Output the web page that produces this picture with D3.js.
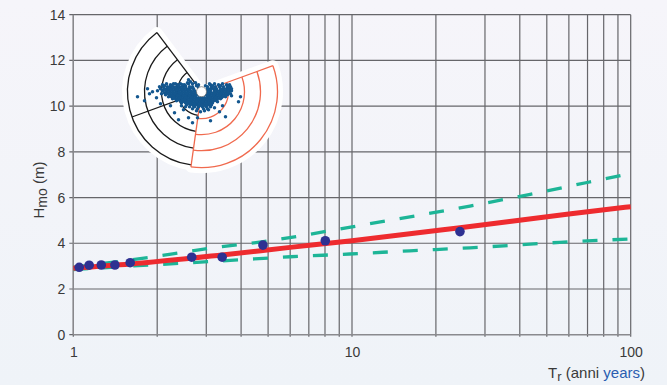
<!DOCTYPE html>
<html><head><meta charset="utf-8">
<script src="https://cdn.jsdelivr.net/npm/d3@7"></script>
<style>
html,body{margin:0;padding:0;}
svg{display:block;font-family:"Liberation Sans",Arial,sans-serif;}
</style></head>
<body><svg id="c" width="667" height="385"></svg>
<script>
// ---------- data ----------
const xTicks = [1,2,3,4,5,6,7,8,9,10,20,30,40,50,60,70,80,90,100];
const xLabels = [1,10,100];
const yTicks = [0,2,4,6,8,10,12,14];

const T_obs = [1.05,1.14,1.26,1.41,1.60,2.66,3.42,4.79,8.02,24.4];
const H_obs = [2.95,3.04,3.05,3.05,3.15,3.39,3.39,3.92,4.11,4.51];

const T_fit = [1,1.6,3.42,6,10,24.4,60,100];
const H_fit = [2.91,3.09,3.49,3.82,4.11,4.68,5.28,5.6];

const T_up = [1,1.6,3.42,4.8,10,26.5,43.6,70.5,100];
const H_up = [2.95,3.27,3.85,4.07,4.72,5.63,6.14,6.67,7.05];

const T_lo = [1,1.6,3.66,6,9.8,16.1,26.5,55.7,100];
const H_lo = [2.85,3.0,3.25,3.41,3.53,3.67,3.80,4.04,4.19];

// inset (direction rose): sector bearings in degrees and ring levels
const blackSector = [188,323];
const blackDivider = [250];
const redSector = [70,188];
const blackRings = [24,40,57,74];
const redRings = [27,43,59,76];
const holeRadius = 5;

// inset scatter: [east, north]
const scatter = [
[-39,7],[-35,8],[-31,7],[-28,8],[-24,7],[-21,8],[-17,7],[-13,8],[9,7],[13,8],[17,7],[21,8],[25,7],[28,7],
[-42,5],[-38,5],[-34,5],[-31,5],[-28,5],[-25,5],[-22,5],[-19,5],[-16,5],[-12,5],[-9,5],[6,5],[10,5],[14,5],[18,5],[22,5],[26,5],[29,5],
[-41,3],[-37,3],[-34,3],[-30,3],[-27,3],[-24,3],[-21,3],[-18,3],[-15,3],[-12,3],[-8,3],[6,3],[9,3],[12,3],[15,3],[19,3],[22,3],[25,3],[28,3],[30,3],
[-39,1],[-35,1],[-32,1],[-29,1],[-26,1],[-23,1],[-20,1],[-17,1],[-14,1],[-11,1],[-7,1],[6,1],[9,1],[13,1],[16,1],[19,1],[22,1],[25,1],[28,1],
[-37,-1],[-34,-1],[-31,-1],[-28,-1],[-25,-1],[-22,-1],[-19,-1],[-16,-1],[-13,-1],[-10,-1],[-6,-1],[6,-1],[9,-1],[12,-1],[15,-1],[18,-1],[21,-1],[24,-1],[27,-1],
[-36,-3],[-32,-3],[-29,-3],[-26,-3],[-23,-3],[-20,-3],[-17,-3],[-14,-3],[-11,-3],[-8,-3],[-5,-3],[5,-3],[8,-3],[11,-3],[14,-3],[17,-3],[20,-3],[23,-3],[26,-3],
[-33,-5],[-30,-5],[-27,-5],[-24,-5],[-21,-5],[-18,-5],[-15,-5],[-12,-5],[-9,-5],[-6,-5],[-3,-6],[0,-6],[3,-6],[6,-5],[9,-5],[12,-5],[15,-5],[18,-5],[21,-5],[24,-5],
[-29,-7],[-26,-7],[-23,-7],[-20,-7],[-17,-7],[-14,-7],[-11,-7],[-8,-7],[-5,-7],[-2,-7],[1,-7],[4,-7],[7,-7],[10,-7],[13,-7],[16,-7],[19,-7],
[-25,-9],[-21,-9],[-18,-9],[-15,-9],[-12,-9],[-9,-9],[-6,-9],[-3,-9],[0,-9],[3,-9],[6,-9],[9,-9],[12,-9],[15,-9],
[-20,-11],[-16,-11],[-13,-11],[-10,-11],[-7,-11],[-4,-11],[-1,-11],[2,-11],[5,-11],[8,-11],[11,-11],
[-15,-13],[-11,-13],[-8,-13],[-5,-13],[-2,-13],[1,-13],[4,-13],[7,-13],[10,-13],
[-12,-15],[-7,-15],[-3,-15],[1,-15],[5,-15],[9,-15],
[-9,-17],[-4,-17],[2,-17],[6,-17],
[-37,6],[-30,6],[-23,6],[-16,6],[11,6],[19,6],[26,6],
[-38,2],[-31,2],[-25,2],[-19,2],[-13,2],[8,2],[14,2],[20,2],[27,2],
[-35,-2],[-27,-2],[-21,-2],[-15,-2],[-9,-2],[7,-2],[13,-2],[19,-2],[25,-2],
[-30,-4],[-24,-4],[-18,-4],[-12,-4],[-6,-4],[6,-4],[12,-4],[18,-4],[24,-4],
[-28,-6],[-22,-6],[-16,-6],[-10,-6],[-4,-8],[2,-8],[8,-6],[14,-6],[20,-6],
[-23,-8],[-17,-8],[-11,-8],[-5,-10],[1,-10],[7,-8],[13,-8],
[-19,-10],[-13,-10],[-7,-12],[-1,-12],[5,-12],[11,-10],
[-14,-12],[-8,-14],[-2,-14],[4,-14],[9,-13],
[-13,12],[-14,9],[-11,10],[-9,8],[-6,9],[-3,7],
[-10,4],[-5,6],[-3,4],[-9,0],[-40,-2],[-33,4],[-26,8],[-19,7],[4,6],[8,8],[30,1],[29,-2],[16,-10],[-20,-14],[-16,-15],[-5,-19],[3,-19],
[-64,-5],[-54,3],[-52,-2],[-45,-6],[-49,0],[-41,-12],[-31,-14],[-27,-21],[-23,-28],[-13,-26],[-9,-31],[-4,-26],
[9,-29],[18,-20],[24,-25],[30,-4],[39,-5],[37,-10],[21,-14],[7,-18],[-18,-18],[-1,-20],[13,-16],[-44,1],[-57,-9]
];

// ---------- layout ----------
const svg = d3.select("#c");
const W = 667, H = 385;
const m = {l:73.3, r:630.7, t:14.7, b:334.7};

const defs = svg.append("defs");
const g0 = defs.append("linearGradient").attr("id","bg").attr("x1",0).attr("y1",0).attr("x2",0).attr("y2",1);
g0.append("stop").attr("offset","0%").attr("stop-color","#f6f5fa");
g0.append("stop").attr("offset","100%").attr("stop-color","#eff3f8");
svg.append("rect").attr("width",W).attr("height",H).attr("fill","url(#bg)");

const x = d3.scaleLog().domain([1,100]).range([m.l, m.r]);
const y = d3.scaleLinear().domain([0,14]).range([m.b, m.t]);

// grid
const grid = svg.append("g");
grid.selectAll("line.v").data(xTicks).join("line")
  .attr("x1",d=>x(d)).attr("x2",d=>x(d)).attr("y1",m.t).attr("y2",m.b+2)
  .attr("stroke","#66666a").attr("stroke-width",1.2);
grid.selectAll("line.h").data(yTicks).join("line")
  .attr("x1",m.l-4).attr("x2",m.r).attr("y1",d=>y(d)).attr("y2",d=>y(d))
  .attr("stroke","#66666a").attr("stroke-width",1.2);
// axis lines
svg.append("line").attr("x1",m.l).attr("x2",m.l).attr("y1",m.t).attr("y2",m.b)
  .attr("stroke","#8a8a8e").attr("stroke-width",1.3);
svg.append("line").attr("x1",m.l).attr("x2",m.r).attr("y1",m.b).attr("y2",m.b)
  .attr("stroke","#8a8a8e").attr("stroke-width",1.3);

// tick labels via axes
const ax = svg.append("g").attr("transform",`translate(0,${m.b})`)
  .call(d3.axisBottom(x).tickValues(xLabels).tickFormat(d3.format("d")).tickSize(0).tickPadding(12));
ax.select(".domain").remove();
ax.selectAll("text").attr("font-size",14).attr("fill","#3a3a3a").attr("font-family","Liberation Sans, Arial, sans-serif");
const ay = svg.append("g").attr("transform",`translate(${m.l},0)`)
  .call(d3.axisLeft(y).tickValues(yTicks).tickSize(0).tickPadding(8));
ay.select(".domain").remove();
ay.selectAll("text").attr("font-size",14).attr("fill","#3a3a3a").attr("font-family","Liberation Sans, Arial, sans-serif");

// axis titles
const yl = svg.append("text").attr("transform","translate(44,190) rotate(-90)")
  .attr("text-anchor","middle").attr("font-size",15).attr("fill","#3a3a3a");
yl.append("tspan").text("H");
yl.append("tspan").text("mo").attr("font-size",14).attr("dy",3);
yl.append("tspan").text(" (m)").attr("dy",-3);

const xl = svg.append("text").attr("x",645).attr("y",378).attr("text-anchor","end")
  .attr("font-size",15).attr("fill","#3a3a3a");
xl.append("tspan").text("T");
xl.append("tspan").text("r").attr("font-size",13).attr("dy",3);
xl.append("tspan").text(" (anni ").attr("dy",-3);
xl.append("tspan").text("years").attr("fill","#2a5db0");
xl.append("tspan").text(")");

// ---------- inset ----------
const cx = 201.5, cy = 91.7;
const ins = svg.append("g").attr("transform",`translate(${cx},${cy})`);
const rad = d=>d*Math.PI/180;
const arcGen = d3.arc();
ins.append("path").attr("d",arcGen({innerRadius:0,outerRadius:d3.max(blackRings),startAngle:rad(blackSector[0]),endAngle:rad(blackSector[1])}))
  .attr("fill","#fff").attr("stroke","#fff").attr("stroke-width",11).attr("stroke-linejoin","round");
ins.append("path").attr("d",arcGen({innerRadius:0,outerRadius:d3.max(redRings),startAngle:rad(redSector[0]),endAngle:rad(redSector[1])}))
  .attr("fill","#fff").attr("stroke","#fff").attr("stroke-width",11).attr("stroke-linejoin","round");

function ringArc(r,a0,a1){
  return arcGen({innerRadius:r,outerRadius:r,startAngle:rad(a0),endAngle:rad(a1)});
}
function radial(a,r0,r1){
  const s=Math.sin(rad(a)), c=-Math.cos(rad(a));
  return `M${r0*s},${r0*c}L${r1*s},${r1*c}`;
}
const blackG = ins.append("g").attr("fill","none").attr("stroke","#1a1a1a").attr("stroke-width",1.3);
blackRings.forEach(r=>blackG.append("path").attr("d",ringArc(r,blackSector[0],blackSector[1])));
[blackSector[1]].concat(blackDivider).forEach(a=>blackG.append("path").attr("d",radial(a,holeRadius,d3.max(blackRings))));
const redG = ins.append("g").attr("fill","none").attr("stroke","#f06a4e").attr("stroke-width",1.3);
redRings.forEach(r=>redG.append("path").attr("d",ringArc(r,redSector[0],redSector[1])));
redSector.forEach(a=>redG.append("path").attr("d",radial(a,holeRadius,d3.max(redRings))));

const sx = d3.scaleLinear().domain([-100,100]).range([-100,100]);
const sy = d3.scaleLinear().domain([-100,100]).range([100,-100]);
ins.append("g").selectAll("circle").data(scatter).join("circle")
  .attr("cx",d=>sx(d[0])).attr("cy",d=>sy(d[1])).attr("r",1.75).attr("fill","#14578f");
ins.append("circle").attr("r",holeRadius).attr("fill","#fff").attr("stroke","#555").attr("stroke-width",0.6);

// ---------- lines ----------
const line = d3.line().x(d=>x(d[0])).y(d=>y(d[1])).curve(d3.curveMonotoneX);
svg.append("path").datum(d3.zip(T_up,H_up)).attr("d",line)
  .attr("fill","none").attr("stroke","#1db597").attr("stroke-width",3.3).attr("stroke-dasharray","15,15");
svg.append("path").datum(d3.zip(T_lo,H_lo)).attr("d",line)
  .attr("fill","none").attr("stroke","#1db597").attr("stroke-width",3.3).attr("stroke-dasharray","15,15");
svg.append("path").datum(d3.zip(T_fit,H_fit)).attr("d",line)
  .attr("fill","none").attr("stroke","#ee2b2f").attr("stroke-width",5);

svg.append("g").selectAll("circle").data(d3.zip(T_obs,H_obs)).join("circle")
  .attr("cx",d=>x(d[0])).attr("cy",d=>y(d[1])).attr("r",4.8).attr("fill","#2e3192");
</script></body></html>
